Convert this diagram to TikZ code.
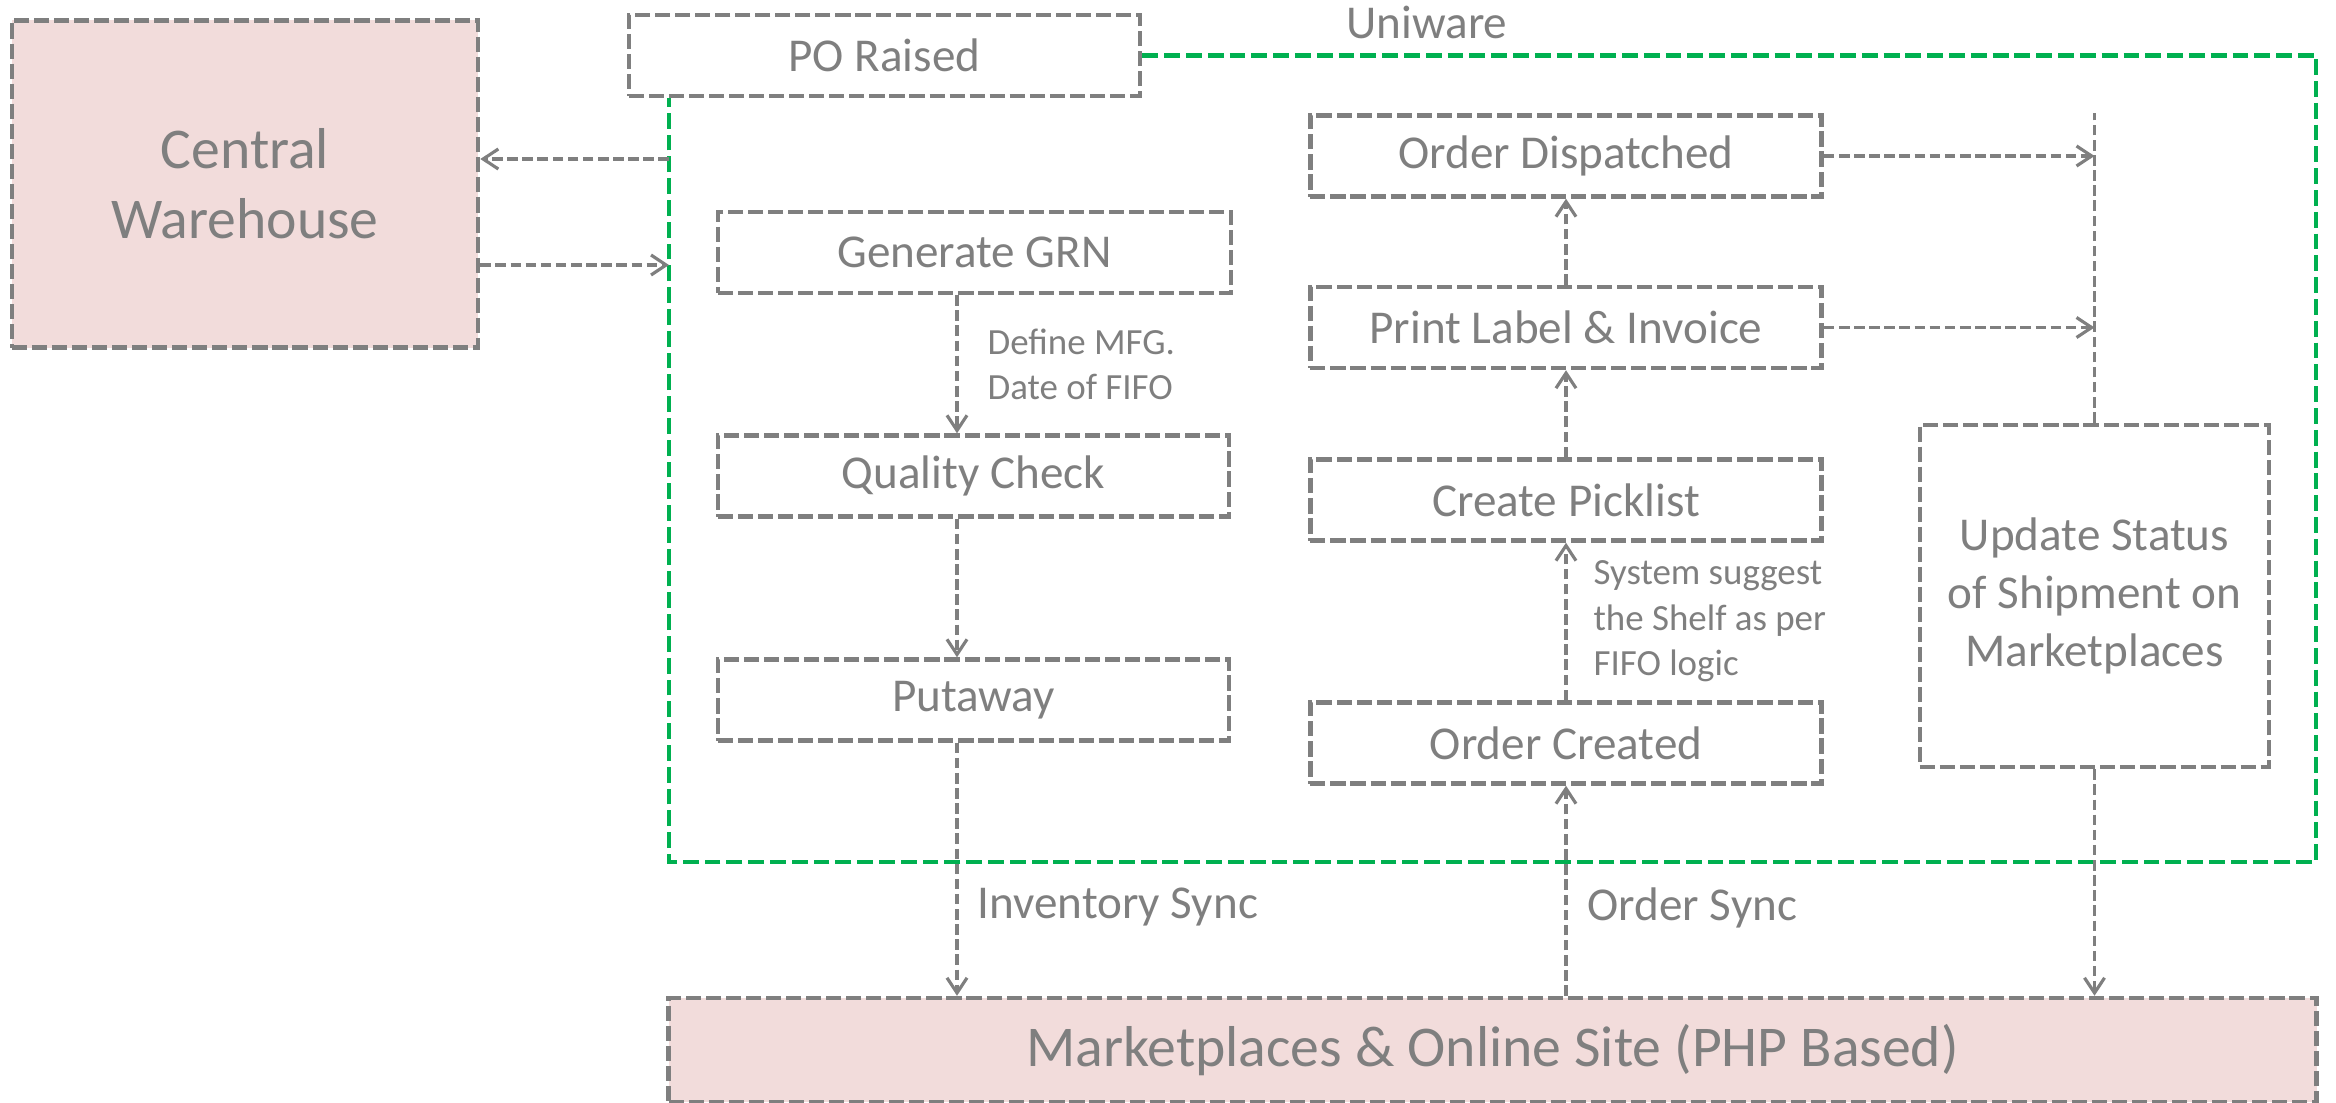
\documentclass[tikz,border=0pt]{standalone}
\usepackage{fontspec}
\setmainfont{Carlito}
\usetikzlibrary{arrows.meta}
\definecolor{txtgray}{HTML}{7F7F7F}
\definecolor{cwpink}{HTML}{F2DCDB}
\definecolor{uniwaregreen}{HTML}{00B050}
\begin{document}
\begin{tikzpicture}[x=0.01cm, y=-0.01cm,
    box/.style={draw=txtgray, line width=1.25pt, dash pattern=on 4.3pt off 1.4pt, text=txtgray,
      inner sep=0pt, minimum width=5.11cm, minimum height=0.81cm, align=center,
      font=\fontsize{13.4}{16.4}\selectfont},
    bigbox/.style={box, fill=cwpink, font=\fontsize{16.4}{19.9}\selectfont},
    conn/.style={draw=txtgray, line width=0.9pt, dash pattern=on 3pt off 1.3pt,
      -{Straight Barb[length=4.3pt,width=5.7pt]}},
    lbl/.style={text=txtgray, inner sep=0pt, anchor=west, align=left,
      font=\fontsize{10.5}{12.9}\selectfont},
    synclbl/.style={lbl, font=\fontsize{13.4}{16.4}\selectfont},
    frame/.style={draw=uniwaregreen, line width=1.25pt, dash pattern=on 4.5pt off 1.7pt}]
  \useasboundingbox (0,0) rectangle (2336,1103);
  \node[bigbox, minimum width=4.66cm, minimum height=3.27cm] (cw) at (245,184) {Central\\Warehouse};
  \node[box] (po) at (884.5,55.5) {PO Raised};
  \node[text=txtgray, font=\fontsize{13.4}{16.4}\selectfont, anchor=base] (uni) at (1427,38) {Uniware};
  \coordinate (gl) at (669,0);
  \coordinate (gr) at (2316,862);
  \draw[frame] (po.east) -| (gr) -| (po.south -| gl);
  \node[box, minimum width=5.13cm] (gen) at (974.5,252.5) {Generate GRN};
  \node[box] (qc) at (973.5,476) {Quality Check};
  \node[box] (put) at (973.5,700) {Putaway};
  \node[box] (od) at (1566,156) {Order Dispatched};
  \node[box] (pl) at (1566,327.5) {Print Label \& Invoice};
  \node[box] (cp) at (1566,500) {Create Picklist};
  \node[box] (oc) at (1566,743) {Order Created};
  \node[box, minimum width=3.49cm, minimum height=3.42cm] (stat) at (2094.5,596) {Update Status\\of Shipment on\\Marketplaces};
  \node[bigbox, minimum width=16.47cm, minimum height=1.04cm] (mkt) at (1492.5,1050) {Marketplaces \& Online Site (PHP Based)};
  \coordinate (in1) at (669,159);
  \coordinate (in2) at (669,265);
  \coordinate (c1) at (957,0);
  \coordinate (bus) at (stat.north |- od.north);
  \draw[conn] (in1) -- (cw.east |- in1);
  \draw[conn] (cw.east |- in2) -- (in2);
  \draw[conn] (c1 |- gen.south) -- node[lbl, xshift=2.9mm] {Define MFG.\\Date of FIFO} (c1 |- qc.north);
  \draw[conn] (c1 |- qc.south) -- (c1 |- put.north);
  \draw[conn] (c1 |- put.south) -- node[synclbl, pos=0.65, xshift=1.9mm] {Inventory Sync} (c1 |- mkt.north);
  \draw[conn] (oc.north) -- node[lbl, xshift=2.6mm] {System suggest\\the Shelf as per\\FIFO logic} (cp.south);
  \draw[conn] (cp.north) -- (pl.south);
  \draw[conn] (pl.north) -- (od.south);
  \draw[conn] (oc.south |- mkt.north) -- node[synclbl, pos=0.42, xshift=2mm] {Order Sync} (oc.south);
  \draw[conn, -] (stat.north) -- (bus);
  \draw[conn] (od.east) -- (od.east -| bus);
  \draw[conn] (pl.east) -- (pl.east -| bus);
  \draw[conn] (stat.south) -- (stat.south |- mkt.north);
\end{tikzpicture}
\end{document}
